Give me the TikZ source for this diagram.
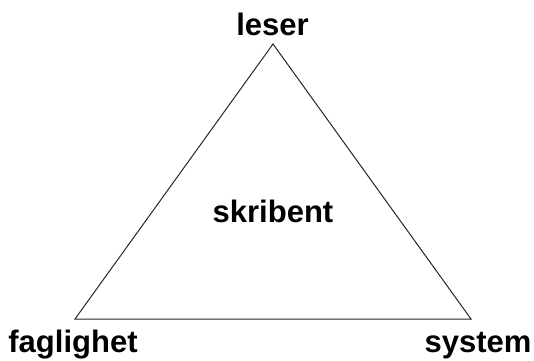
\documentclass[tikz,border=0pt]{standalone}
\usepackage{fontspec}
\setmainfont{Liberation Sans}
\begin{document}
\begin{tikzpicture}[x=1pt,y=1pt,
  lbl/.style={font=\fontsize{31}{31}\selectfont\bfseries, inner sep=0pt, anchor=base},
  edge/.style={line width=1pt, draw=black!85}]
\useasboundingbox (0,0) rectangle (534,360);
\coordinate (top) at (273,316);
\coordinate (bl) at (75,41);
\coordinate (br) at (471,41);
\draw[edge, line join=miter] (top) -- (bl) -- (br) -- cycle;
\node[lbl] (leser) at (272.5,325) {leser};
\node[lbl] (skribent) at (273,138) {skribent};
\node[lbl] (faglighet) at (73,8) {faglighet};
\node[lbl] (system) at (478,8) {system};
\end{tikzpicture}
\end{document}
